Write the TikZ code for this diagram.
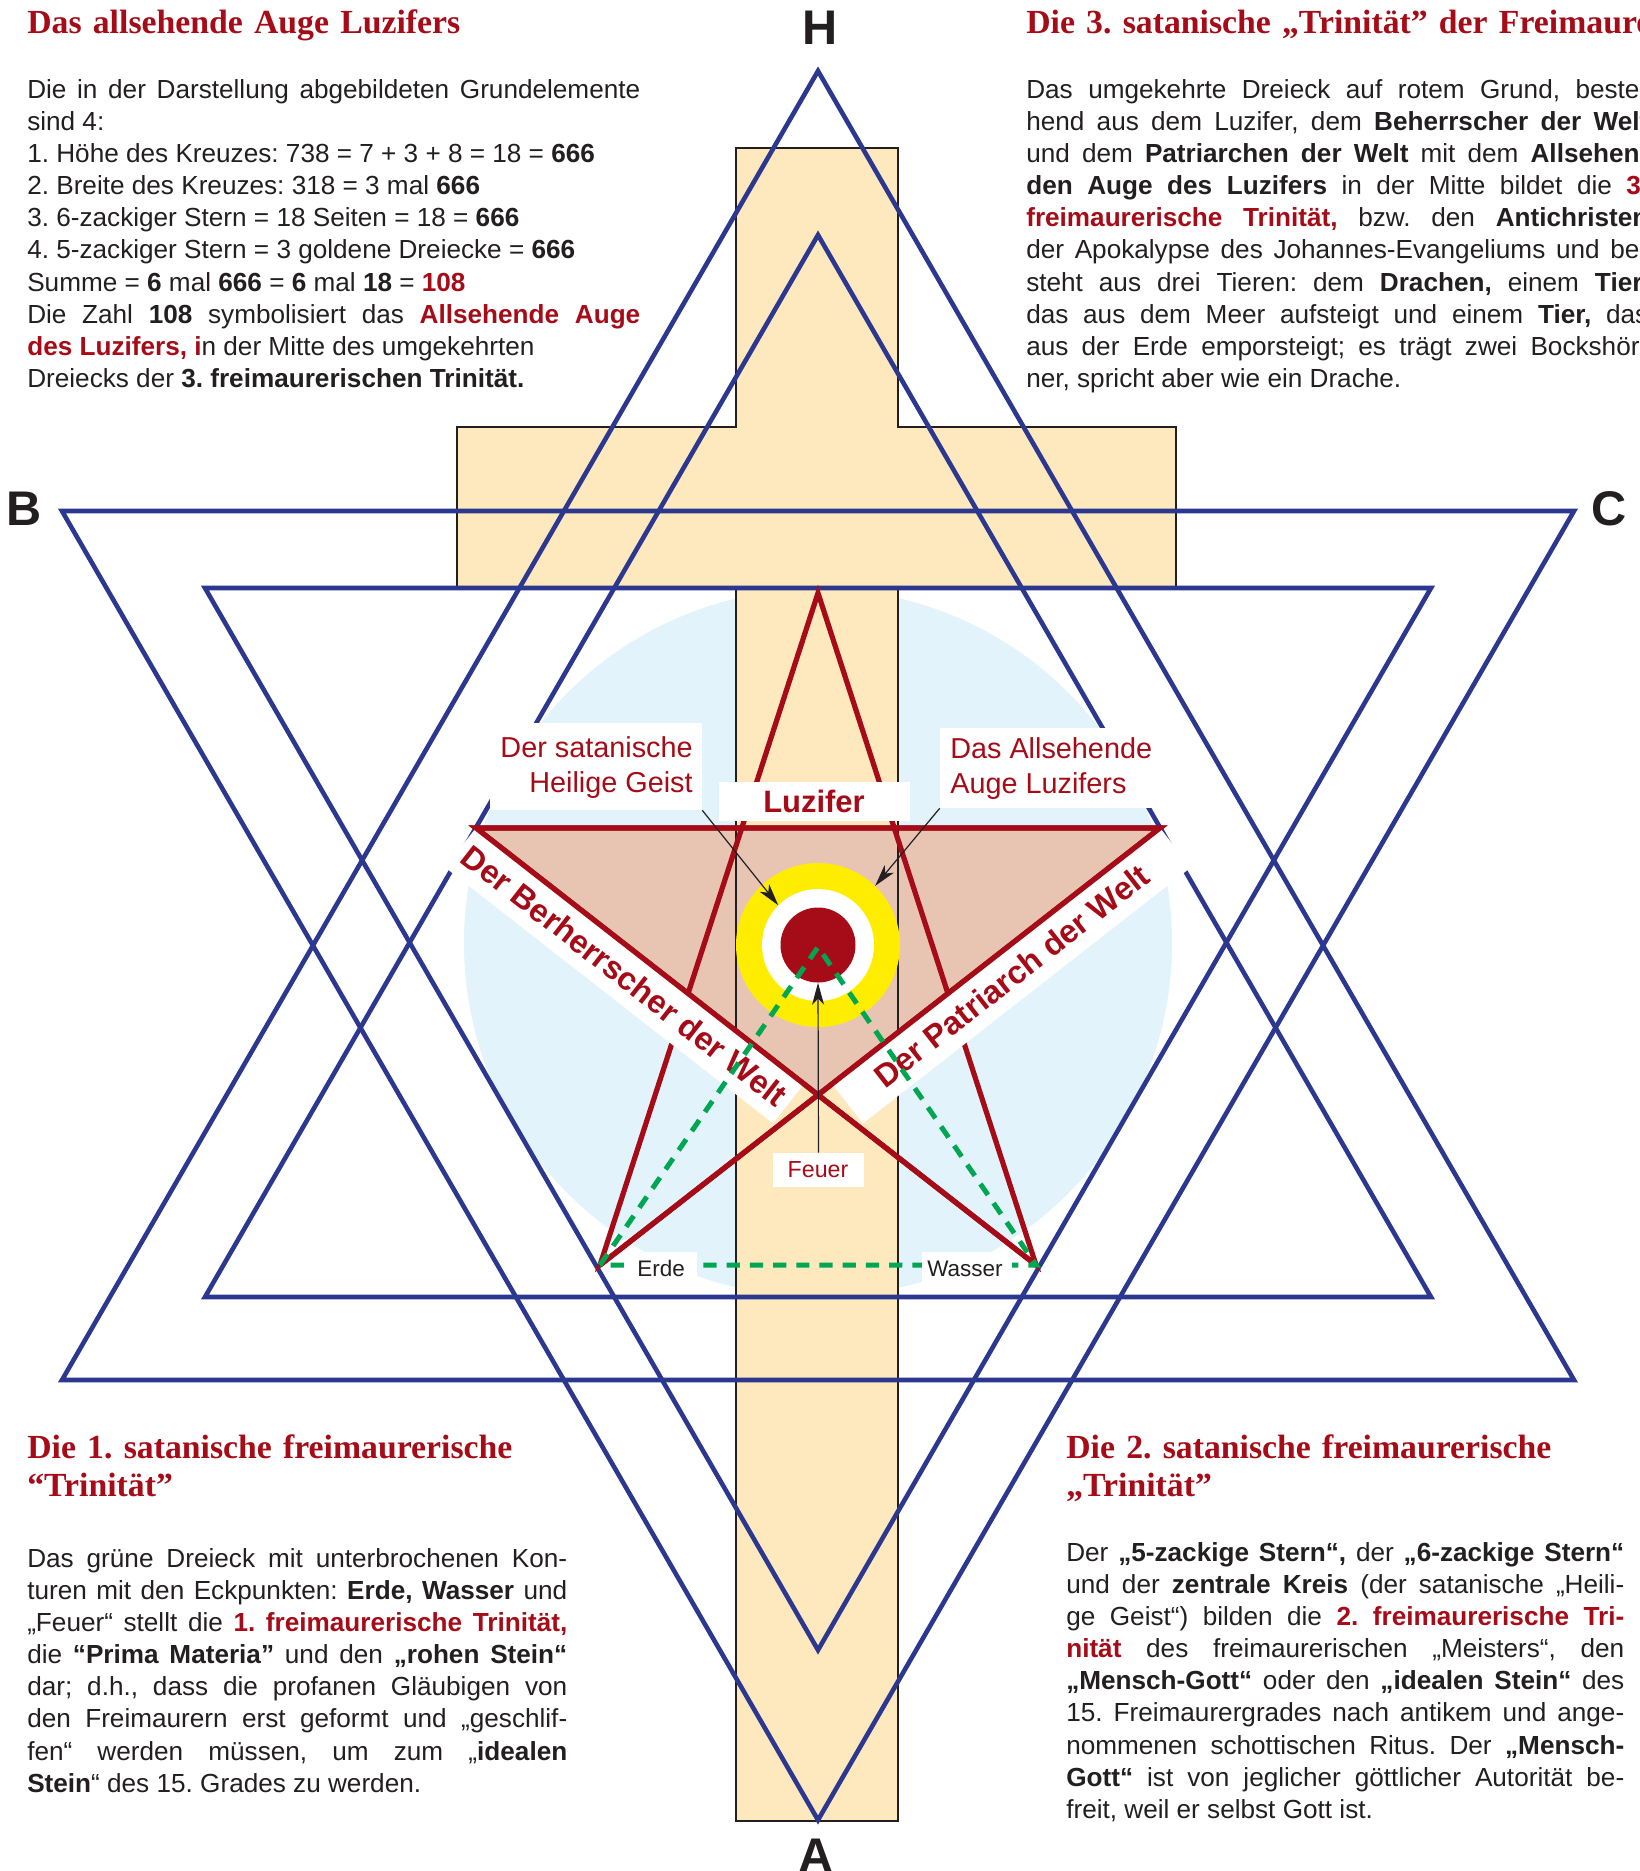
\documentclass[tikz,border=0pt]{standalone}
\usepackage{fontspec}
\setmainfont{Liberation Sans}
\newfontfamily\headfont{Liberation Serif}
\usetikzlibrary{arrows.meta}
\definecolor{StarBlue}{RGB}{44,56,144}
\definecolor{DeepRed}{RGB}{166,12,24}
\definecolor{CrossBeige}{RGB}{254,232,189}
\definecolor{HaloBlue}{RGB}{226,243,252}
\definecolor{Salmon}{RGB}{232,197,178}
\definecolor{EyeYellow}{RGB}{255,237,0}
\definecolor{DashGreen}{RGB}{0,166,81}
\definecolor{Ink}{RGB}{35,31,32}

\newcommand{\hot}[1]{\textcolor{DeepRed}{\bfseries #1}}
\newcommand{\fat}[1]{\textbf{#1}}
\newcommand{\nobreaks}{\hyphenpenalty=10000\exhyphenpenalty=10000\tolerance=9999\relax}
\frenchspacing

\begin{document}
\begin{tikzpicture}[x=0.25mm, y=-0.25mm,
  every node/.style={inner sep=0pt},
  bluetri/.style={draw=StarBlue, line width=1.15mm},
  redline/.style={draw=DeepRed, line width=1.3mm},
  crossline/.style={draw=Ink, line width=0.65mm},
  greendash/.style={draw=DashGreen, line width=1.25mm, dash pattern=on 3.3mm off 2.5mm},
  whitebox/.style={fill=white},
  pointer/.style={draw=Ink, line width=0.3mm, -{Stealth[length=5.5mm, width=3mm, inset=1.5mm]}},
  band/.style={fill=white, minimum width=104mm, minimum height=12.5mm, text=DeepRed, font=\bfseries\fontsize{23}{27}\selectfont},
  smalllabel/.style={text=DeepRed, font=\fontsize{20.5}{24}\selectfont},
  tinylabel/.style={anchor=base west, text=Ink, font=\fontsize{16}{19}\selectfont},
  bodytext/.style={anchor=base west, align=justify, text=Ink, font=\fontsize{18.6}{22.9}\selectfont},
  headtext/.style={anchor=base west, text=DeepRed, text width=160mm, font=\headfont\bfseries\fontsize{24}{27.6}\selectfont},
  cornerletter/.style={anchor=base, text=Ink, font=\bfseries\fontsize{34.6}{40}\selectfont}]

  \useasboundingbox (0,0) rectangle (1640,1871);
  \clip (0,0) rectangle (1640,1871);
  \fill[white] (0,0) rectangle (1640,1871);

  % halo behind the stars
  \fill[HaloBlue] (818,943) circle[radius=354];

  % the cross
  \fill[CrossBeige] (736,148) -- (898,148) -- (898,427) -- (1176,427) -- (1176,587) -- (898,587)
    -- (898,1821) -- (736,1821) -- (736,587) -- (457,587) -- (457,427) -- (736,427) -- cycle;

  % pentagram points
  \coordinate (top) at (818,593);
  \coordinate (upperL) at (476,828);
  \coordinate (upperR) at (1160,828);
  \coordinate (lowerL) at (600,1265);
  \coordinate (lowerR) at (1036,1265);
  \coordinate (cross) at (818,1095);
  \coordinate (eyetop) at (818,947);

  \fill[Salmon] (upperL) -- (upperR) -- (cross) -- cycle;

  \draw[crossline] (736,148) -- (898,148) -- (898,427) -- (1176,427) -- (1176,587) -- (898,587)
    -- (898,1821) -- (736,1821) -- (736,587) -- (457,587) -- (457,427) -- (736,427) -- cycle;

  % two hexagrams
  \draw[bluetri] (818,71) -- (62,1380) -- (1574,1380) -- cycle;
  \draw[bluetri] (62,511) -- (1574,511) -- (818,1820) -- cycle;
  \draw[bluetri] (818,235) -- (205,1297) -- (1431,1297) -- cycle;
  \draw[bluetri] (205,588) -- (1431,588) -- (818,1650) -- cycle;

  \draw[redline] (lowerL) -- (top) -- (lowerR) -- (upperL) -- (upperR) -- cycle;

  \node[band, rotate=-37.98] (ruler) at (624.5,975.7) {Der Berherrscher der Welt};
  \node[band, rotate=37.98] (patriarch) at (1011.5,975.7) {Der Patriarch der Welt};

  \draw[redline] (lowerR) -- (upperL) -- (upperR) -- (lowerL);

  % the eye
  \node[circle, fill=EyeYellow, minimum size=41mm] (eyeouter) at (818,945) {};
  \node[circle, fill=white, minimum size=28mm] (eyering) at (818,945) {};
  \node[circle, fill=DeepRed, minimum size=18.75mm] (eyecore) at (818,945) {};

  \draw[greendash] (lowerL) -- (eyetop) -- (lowerR) -- cycle;

  % labels
  \node[whitebox, minimum width=53mm, minimum height=21.75mm] (geistbox) at (596,766.5) {};
  \node[smalllabel, anchor=base east] (geist1) at (693,757) {Der satanische};
  \node[smalllabel, anchor=base east] (geist2) at (693,792) {Heilige Geist};

  \node[whitebox, minimum width=56.25mm, minimum height=20mm] (augebox) at (1052.5,768) {};
  \node[smalllabel, anchor=base west] (auge1) at (950,758) {Das Allsehende};
  \node[smalllabel, anchor=base west] (auge2) at (950,793) {Auge Luzifers};

  \node[whitebox, minimum width=47.75mm, minimum height=9.75mm] (luzbox) at (814.5,801.5) {};
  \node[anchor=base, text=DeepRed, font=\bfseries\fontsize{22}{26}\selectfont] (luz) at (814,812) {Luzifer};

  \node[whitebox, minimum width=22.75mm, minimum height=8.5mm] (feuerbox) at (818.5,1170) {};
  \node[anchor=base, text=DeepRed, font=\fontsize{16.5}{20}\selectfont] (feuer) at (818,1177) {Feuer};

  \node[whitebox, minimum width=17.5mm, minimum height=7.75mm] (erdebox) at (662,1267.5) {};
  \node[tinylabel] (erde) at (637,1276) {Erde};
  \node[whitebox, minimum width=22.5mm, minimum height=7.75mm] (wasserbox) at (967,1267.5) {};
  \node[tinylabel] (wasser) at (927,1276) {Wasser};

  \draw[pointer] (geistbox.south east) -- (eyering.135);
  \draw[pointer] (augebox.south west) -- (eyeouter.46);
  \draw[pointer] (feuerbox.north) -- (eyecore.south);

  \node[cornerletter] (topH) at (820,44) {H};
  \node[cornerletter] (bottomA) at (816,1872) {A};
  \node[cornerletter] (leftB) at (24,525) {B};
  \node[cornerletter] (rightC) at (1609,525) {C};

  % text blocks
  \node[headtext] (headA) at (27,33) {Das allsehende Auge Luzifers};
  \node[bodytext, text width=153.25mm] (textA) at (27,98) {\nobreaks
    Die in der Darstellung abgebildeten Grundelemente\linebreak
    sind 4:\newline
    1. Höhe des Kreuzes: 738 = 7 + 3 + 8 = 18 = \fat{666}\newline
    2. Breite des Kreuzes: 318 = 3 mal \fat{666}\newline
    3. 6-zackiger Stern = 18 Seiten = 18 = \fat{666}\newline
    4. 5-zackiger Stern = 3 goldene Dreiecke = \fat{666}\newline
    Summe = \fat{6} mal \fat{666} = \fat{6} mal \fat{18} = \hot{108}\newline
    Die Zahl \fat{108} symbolisiert das \hot{Allsehende Auge}\linebreak
    \hot{des Luzifers, i}n der Mitte des umgekehrten\newline
    Dreiecks der \fat{3. freimaurerischen Trinität.}};

  \node[headtext, text width=200mm] (headB) at (1026,33) {Die 3. satanische „Trinität” der Freimaurer};
  \node[bodytext, text width=155.5mm] (textB) at (1026,98) {\nobreaks
    Das umgekehrte Dreieck auf rotem Grund, beste-\linebreak
    hend aus dem Luzifer, dem \fat{Beherrscher der Welt}\linebreak
    und dem \fat{Patriarchen der Welt} mit dem \fat{Allsehen-}\linebreak
    \fat{den Auge des Luzifers} in der Mitte bildet die \hot{3.}\linebreak
    \hot{freimaurerische Trinität,} bzw. den \fat{Antichristen}\linebreak
    der Apokalypse des Johannes-Evangeliums und be-\linebreak
    steht aus drei Tieren: dem \fat{Drachen,} einem \fat{Tier,}\linebreak
    das aus dem Meer aufsteigt und einem \fat{Tier,} das\linebreak
    aus der Erde emporsteigt; es trägt zwei Bockshör-\linebreak
    ner, spricht aber wie ein Drache.};

  \node[headtext] (headC) at (27,1458) {Die 1. satanische freimaurerische\\“Trinität”};
  \node[bodytext, text width=135mm] (textC) at (27,1567) {\nobreaks
    Das grüne Dreieck mit unterbrochenen Kon-\linebreak
    turen mit den Eckpunkten: \fat{Erde, Wasser} und\linebreak
    „Feuer“ stellt die \hot{1. freimaurerische Trinität,}\linebreak
    die \fat{“Prima Materia”} und den \fat{„rohen Stein“}\linebreak
    dar; d.h., dass die profanen Gläubigen von\linebreak
    den Freimaurern erst geformt und „geschlif-\linebreak
    fen“ werden müssen, um zum „\fat{idealen}\linebreak
    \fat{Stein}“ des 15. Grades zu werden.};

  \node[headtext] (headD) at (1066,1458) {Die 2. satanische freimaurerische\\„Trinität”};
  \node[bodytext, text width=139.5mm] (textD) at (1066,1561) {\nobreaks
    Der \fat{„5-zackige Stern“,} der \fat{„6-zackige Stern“}\linebreak
    und der \fat{zentrale Kreis} (der satanische „Heili-\linebreak
    ge Geist“) bilden die \hot{2. freimaurerische Tri-}\linebreak
    \hot{nität} des freimaurerischen „Meisters“, den\linebreak
    \fat{„Mensch-Gott“} oder den \fat{„idealen Stein“} des\linebreak
    15. Freimaurergrades nach antikem und ange-\linebreak
    nommenen schottischen Ritus. Der \fat{„Mensch-}\linebreak
    \fat{Gott“} ist von jeglicher göttlicher Autorität be-\linebreak
    freit, weil er selbst Gott ist.};
\end{tikzpicture}
\end{document}
